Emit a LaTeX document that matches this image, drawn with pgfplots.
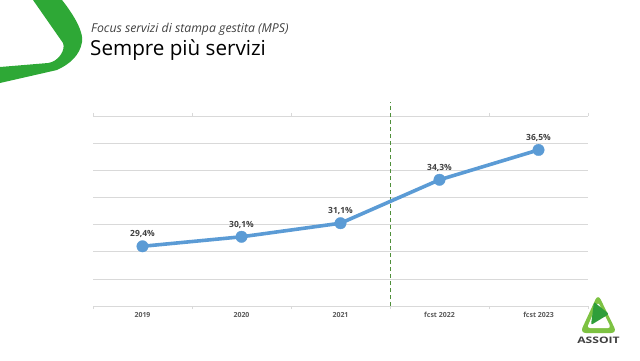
\documentclass[border=0pt]{standalone}
\usepackage{fontspec}
\setmainfont{Open Sans}
\usepackage{pgfplots}
\pgfplotsset{compat=1.18}
\definecolor{lineblue}{HTML}{5B9BD5}
\definecolor{gridgray}{HTML}{D9D9D9}
\definecolor{lblgray}{HTML}{404040}
\definecolor{tickgray}{HTML}{595959}
\definecolor{swoosh}{HTML}{2EA836}
\definecolor{dashgreen}{HTML}{4F8F3A}
\definecolor{logogreen}{HTML}{2E9E3A}
\definecolor{logolight}{HTML}{7DC242}
\begin{document}
\begin{tikzpicture}[x=1bp,y=1bp]
\path[use as bounding box] (0,0) rectangle (640,360);
% green swoosh (decoration)
\fill[swoosh] (33,360) -- (62,360) .. controls (70,350) and (84,330) .. (82,318)
  .. controls (80,305) and (70,296) .. (57,290) -- (0,277) -- (0,293)
  -- (48,297) .. controls (58,298) and (66,310) .. (63,317) -- cycle;
% titles
\node[anchor=base west, inner sep=0, font=\fontsize{12.3}{15}\selectfont\itshape, text=lblgray] at (91,328) {Focus servizi di stampa gestita (MPS)};
\node[anchor=base west, inner sep=0, font=\fontsize{20.7}{24}\selectfont, text=black] at (90,305) {Sempre più servizi};
% logo (decoration)
\fill[logolight, rounded corners=6bp] (580,27) -- (617,27) -- (598,66) -- cycle;
\fill[white, rounded corners=3bp] (587,32) -- (611,32) -- (598,58) -- cycle;
\fill[logogreen, rounded corners=2bp] (591,35) -- (609,46) -- (594,58) -- cycle;
\node[anchor=base, inner sep=0, font=\fontsize{9}{10}\selectfont\bfseries, text=lblgray, xscale=1.35] at (598.5,17) {ASSOIT};
\begin{axis}[
  at={(93bp,54bp)}, anchor=south west,
  scale only axis, width=495bp, height=190bp,
  xmin=-0.5, xmax=4.5, ymin=25, ymax=39,
  ytick={25,27,...,39}, yticklabels={},
  ymajorgrids, grid style={gridgray, line width=0.7pt},
  major tick length=0pt,
  axis line style={draw=none},
  xtick={0,1,2,3,4},
  xticklabels={2019,2020,2021,fcst 2022,fcst 2023},
  minor xtick={-0.5,0.5,1.5,2.5,3.5,4.5},
  minor tick length=3bp,
  tick align=outside,
  minor tick style={gridgray, line width=0.7pt},
  ticklabel style={font=\fontsize{7}{8}\selectfont\bfseries, text=tickgray},
  xticklabel style={yshift=-2.5bp},
  clip=false,
  point meta=explicit symbolic,
  nodes near coords,
  every node near coord/.append style={font=\fontsize{8.5}{10}\selectfont\bfseries, text=lblgray, anchor=south, yshift=5bp},
]
\draw[dashgreen, line width=0.9pt, dash pattern=on 4.5bp off 2.5bp] (axis cs:2.5,25) -- (axis cs:2.5,40.05);
\addplot[lineblue, line width=3.6bp, mark=*, mark size=5.8, mark options={fill=lineblue, draw=lineblue, line width=0.3pt, solid}]
  coordinates {(0,29.4) [29,4\%] (1,30.1) [30,1\%] (2,31.1) [31,1\%] (3,34.3) [34,3\%] (4,36.5) [36,5\%]};
\end{axis}
\end{tikzpicture}
\end{document}
